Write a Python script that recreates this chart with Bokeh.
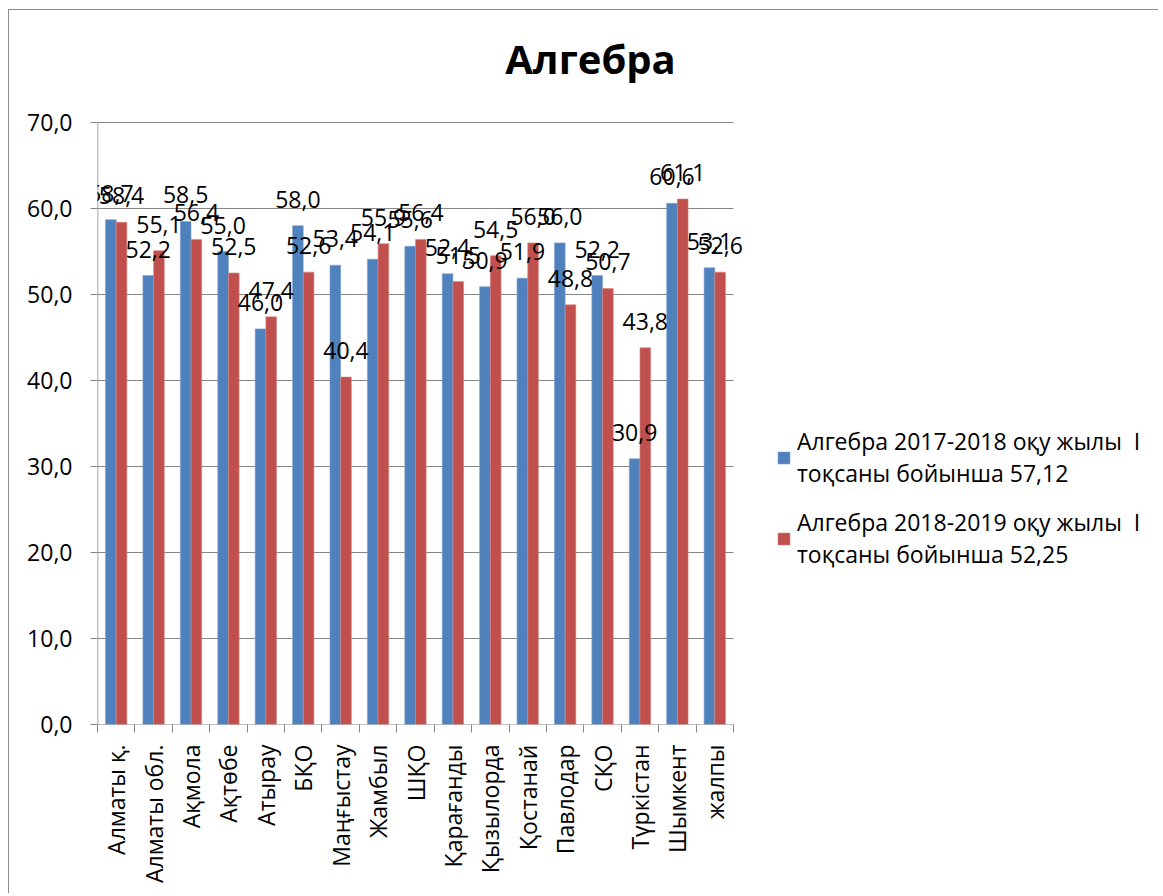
import math
from bokeh.plotting import figure
from bokeh.models import (ColumnDataSource, Range1d, FixedTicker, LabelSet, Label,
                          Legend, LegendItem)
from bokeh.core.properties import value
from bokeh.embed import file_html
from bokeh.resources import INLINE

categories = ["Алматы қ.", "Алматы обл.", "Ақмола", "Ақтөбе", "Атырау", "БҚО",
              "Маңғыстау", "Жамбыл", "ШҚО", "Қарағанды", "Қызылорда", "Қостанай",
              "Павлодар", "СҚО", "Түркістан", "Шымкент", "жалпы"]
series_2017 = [58.7, 52.2, 58.5, 55.0, 46.0, 58.0, 53.4, 54.1, 55.6, 52.4, 50.9,
               51.9, 56.0, 52.2, 30.9, 60.6, 53.1]
series_2018 = [58.4, 55.1, 56.4, 52.5, 47.4, 52.6, 40.4, 55.9, 56.4, 51.5, 54.5,
               56.0, 48.8, 50.7, 43.8, 61.1, 52.6]
name_2017 = "Алгебра 2017-2018 оқу жылы  І\nтоқсаны бойынша 57,12"
name_2018 = "Алгебра 2018-2019 оқу жылы  І\nтоқсаны бойынша 52,25"
title_text = "Алгебра"
y_ticks = [0, 10, 20, 30, 40, 50, 60, 70]
y_tick_labels = ["0,0", "10,0", "20,0", "30,0", "40,0", "50,0", "60,0", "70,0"]

FONT = "Open Sans"
BLUE = "#4F81BD"
RED = "#C0504D"
GRID = "#868686"
n = len(categories)
idx = list(range(n))
half = 0.143
bw = 0.285

# geometry (pixels)
W, H = 1150, 884
LEFT, BOTTOM = 88, 170
frame_w = W - LEFT
frame_h = H - BOTTOM
plot_w_px = 636          # width of the category area
plot_h_px = 602          # height of the 0..70 value area
y_max = y_ticks[-1]
x_end = -0.5 + frame_w / (plot_w_px / n)
y_end = y_max * frame_h / plot_h_px


def fmt(v):
    return f"{v:.1f}".replace(".", ",")


src = ColumnDataSource(dict(
    xb=[i - half for i in idx], xr=[i + half for i in idx],
    a=series_2017, b=series_2018,
    ta=[fmt(v) for v in series_2017], tb=[fmt(v) for v in series_2018],
))

p = figure(width=W, height=H, x_range=Range1d(-0.5, x_end),
           y_range=Range1d(0, y_end), output_backend="svg", toolbar_location=None,
           min_border_left=LEFT, min_border_right=0, min_border_top=0,
           min_border_bottom=BOTTOM)
p.styles = {"margin-left": "8px", "margin-top": "9px",
            "border-left": "1px solid #8c8c8c", "border-top": "1px solid #8c8c8c"}
p.outline_line_color = None
p.background_fill_color = "white"
p.xgrid.visible = False
p.ygrid.visible = False

# gridlines and the value-axis line, limited to the category area
p.segment(x0=[-0.5] * len(y_ticks), x1=[n - 0.5] * len(y_ticks), y0=y_ticks,
          y1=y_ticks, line_color=GRID, line_width=1)
p.segment(x0=[-0.5], x1=[-0.5], y0=[0], y1=[y_max], line_color=GRID, line_width=1.5)

rb = p.vbar(x="xb", top="a", width=bw, source=src, fill_color=BLUE,
            line_color="#7d9fcf", line_width=0.6)
rr = p.vbar(x="xr", top="b", width=bw, source=src, fill_color=RED,
            line_color="#d98583", line_width=0.6)

for col, tcol, xcol in (("a", "ta", "xb"), ("b", "tb", "xr")):
    p.add_layout(LabelSet(x=xcol, y=col, text=tcol, source=src, y_offset=18,
                          text_align="center", text_baseline="alphabetic",
                          text_font=value(FONT), text_font_size=value("23px"),
                          text_color="black"))

p.add_layout(Label(x=493, y=666, x_units="screen", y_units="screen", text=title_text,
                   text_align="center", text_baseline="alphabetic",
                   text_font=FONT, text_font_size="40px", text_font_style="bold",
                   text_color="black"))

# axes
p.yaxis.ticker = FixedTicker(ticks=y_ticks)
p.yaxis.major_label_overrides = dict(zip(y_ticks, y_tick_labels))
p.yaxis.axis_line_color = None
p.yaxis.major_tick_line_color = GRID
p.yaxis.major_tick_out = 7
p.yaxis.major_tick_in = 0
p.yaxis.minor_tick_line_color = None
p.yaxis.major_label_standoff = 18
p.yaxis.major_label_text_font = FONT
p.yaxis.major_label_text_font_size = "23px"
p.yaxis.major_label_text_color = "black"

p.xaxis.ticker = FixedTicker(ticks=idx, minor_ticks=[i - 0.5 for i in range(n + 1)])
p.xaxis.major_label_overrides = dict(zip(idx, categories))
p.xaxis.major_label_orientation = math.pi / 2
p.xaxis.axis_line_color = None
p.xaxis.major_tick_line_color = None
p.xaxis.major_tick_out = 0
p.xaxis.major_tick_in = 0
p.xaxis.minor_tick_line_color = GRID
p.xaxis.minor_tick_out = 8
p.xaxis.minor_tick_in = 0
p.xaxis.major_label_standoff = 12
p.xaxis.major_label_text_font = FONT
p.xaxis.major_label_text_font_size = "23px"
p.xaxis.major_label_text_color = "black"

legend = Legend(items=[LegendItem(label=name_2017, renderers=[rb]),
                       LegendItem(label=name_2018, renderers=[rr])],
                location=(679, 154), padding=0, margin=0, spacing=17,
                glyph_width=15, glyph_height=15, label_standoff=6,
                label_text_font=FONT, label_text_font_size="23px",
                label_text_color="black", label_text_line_height=1.32,
                border_line_color=None, background_fill_alpha=0)
p.add_layout(legend)

open("out.html", "w").write(file_html(p, INLINE))
